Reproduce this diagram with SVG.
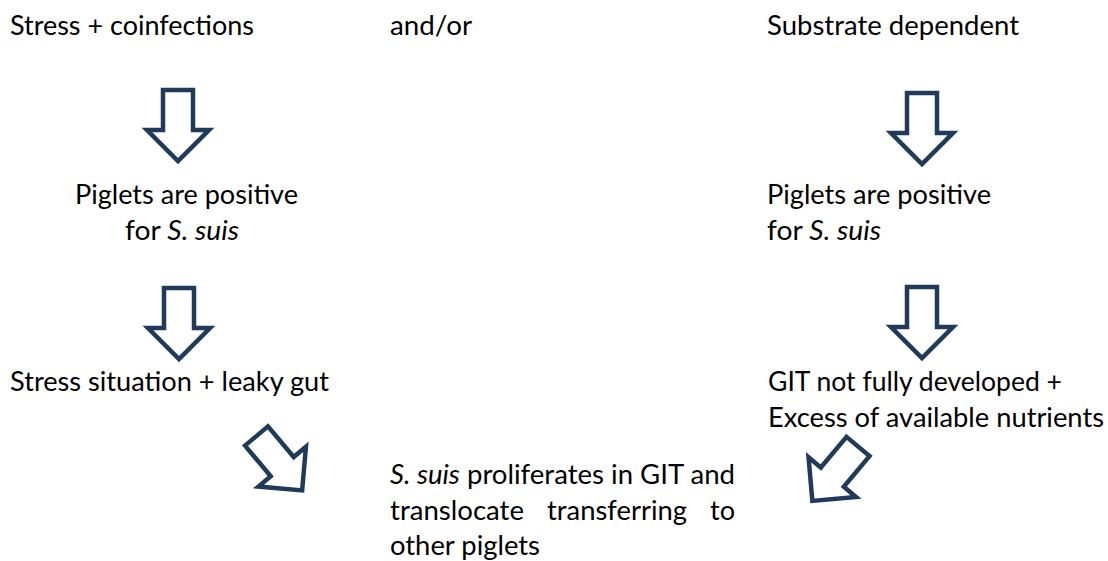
<svg xmlns="http://www.w3.org/2000/svg" xmlns:xlink="http://www.w3.org/1999/xlink" width="1108" height="561" viewBox="0 0 1108 561">
  <style>
    .t { font-family: "Lato", "Open Sans", "Liberation Sans", sans-serif; font-size: 27px; fill: #000000; }
    .i { font-style: italic; }
    .arrow { fill: #ffffff; stroke: #1F3A5A; stroke-width: 4.5; stroke-linejoin: miter; }
  </style>
  <defs>
    <path id="blockArrow" class="arrow" d="M-15,0 H15 V40 H31 L0,71 L-31,40 H-15 Z"/>
  </defs>
  <rect width="1108" height="561" fill="#ffffff"/>

  <g id="connectors">
    <use id="arrow-left-1" xlink:href="#blockArrow" href="#blockArrow" transform="translate(178,90)"/>
    <use id="arrow-left-2" xlink:href="#blockArrow" href="#blockArrow" transform="translate(179,288)"/>
    <use id="arrow-right-1" xlink:href="#blockArrow" href="#blockArrow" transform="translate(922,93)"/>
    <use id="arrow-right-2" xlink:href="#blockArrow" href="#blockArrow" transform="translate(922,287)"/>
    <use id="arrow-left-diag" xlink:href="#blockArrow" href="#blockArrow" transform="translate(256.5,436) rotate(-40)"/>
    <use id="arrow-right-diag" xlink:href="#blockArrow" href="#blockArrow" transform="translate(858,446.5) rotate(40)"/>
  </g>

  <g id="node-stress-coinfections">
    <text class="t" x="10" y="35" textLength="244" lengthAdjust="spacingAndGlyphs">Stress + coinfections</text>
  </g>
  <g id="node-andor">
    <text class="t" x="390" y="35" textLength="82" lengthAdjust="spacingAndGlyphs">and/or</text>
  </g>
  <g id="node-substrate">
    <text class="t" x="767" y="35" textLength="252" lengthAdjust="spacingAndGlyphs">Substrate dependent</text>
  </g>

  <g id="node-piglets-left">
    <text class="t" x="75" y="204" textLength="223" lengthAdjust="spacingAndGlyphs">Piglets are positive</text>
    <text class="t" x="125" y="240" textLength="114" lengthAdjust="spacingAndGlyphs">for <tspan class="i">S. suis</tspan></text>
  </g>
  <g id="node-piglets-right">
    <text class="t" x="767" y="204" textLength="224" lengthAdjust="spacingAndGlyphs">Piglets are positive</text>
    <text class="t" x="767" y="240" textLength="114" lengthAdjust="spacingAndGlyphs">for <tspan class="i">S. suis</tspan></text>
  </g>

  <g id="node-stress-situation">
    <text class="t" x="10" y="391" textLength="319" lengthAdjust="spacingAndGlyphs">Stress situation + leaky gut</text>
  </g>
  <g id="node-git">
    <text class="t" x="768" y="391" textLength="294" lengthAdjust="spacingAndGlyphs">GIT not fully developed +</text>
    <text class="t" x="768" y="427" textLength="336" lengthAdjust="spacingAndGlyphs">Excess of available nutrients</text>
  </g>

  <g id="node-proliferates">
    <text class="t" x="390" y="484" textLength="345" lengthAdjust="spacingAndGlyphs"><tspan class="i">S. suis</tspan> proliferates in GIT and</text>
    <text class="t" x="390" y="520" textLength="134" lengthAdjust="spacingAndGlyphs">translocate</text>
    <text class="t" x="547" y="520" textLength="140" lengthAdjust="spacingAndGlyphs">transferring</text>
    <text class="t" x="710" y="520" textLength="25" lengthAdjust="spacingAndGlyphs">to</text>
    <text class="t" x="390" y="555" textLength="150" lengthAdjust="spacingAndGlyphs">other piglets</text>
  </g>
</svg>
